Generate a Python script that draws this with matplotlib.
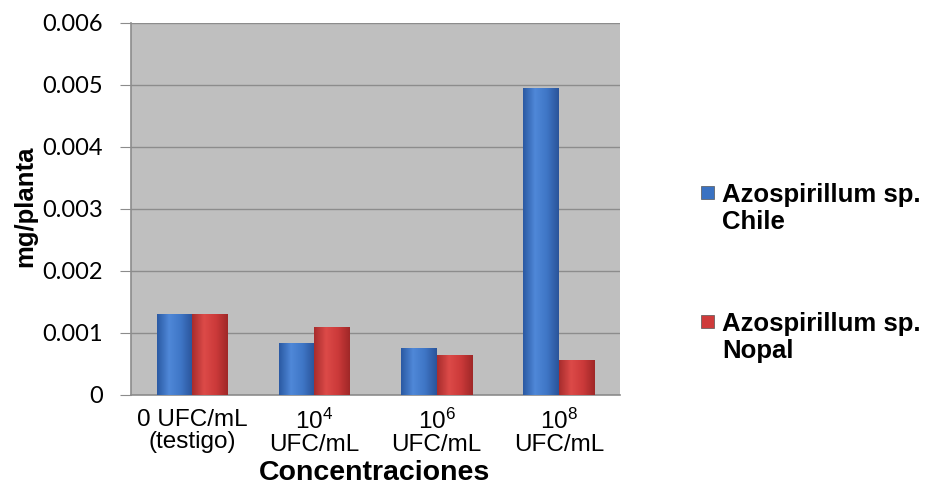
import matplotlib
matplotlib.use('Agg')
import matplotlib.pyplot as plt
import numpy as np
from matplotlib.patches import Rectangle
from matplotlib.colors import LinearSegmentedColormap

# Data
categories = ['0 UFC/mL\n(testigo)',
              r'$\mathregular{10^4}$' + '\nUFC/mL',
              r'$\mathregular{10^6}$' + '\nUFC/mL',
              r'$\mathregular{10^8}$' + '\nUFC/mL']
chile = [0.00131, 0.00083, 0.00075, 0.00495]
nopal = [0.00131, 0.00110, 0.00064, 0.00056]
series_names = ['Azospirillum sp.\nChile', 'Azospirillum sp.\nNopal']
yticks = [0, 0.001, 0.002, 0.003, 0.004, 0.005, 0.006]
ytick_labels = ['0', '0.001', '0.002', '0.003', '0.004', '0.005', '0.006']

plt.rcParams['font.family'] = ['Liberation Sans', 'DejaVu Sans']
plt.rcParams['mathtext.fontset'] = 'custom'
plt.rcParams['mathtext.rm'] = 'Liberation Sans'

blue = '#3a72c2'
red = '#cf3b3b'
blue_cm = LinearSegmentedColormap.from_list('b', ['#2b5aa3', '#4f88d8', '#3f76c6', '#2a549a'])
red_cm = LinearSegmentedColormap.from_list('r', ['#a82d2d', '#dc4a48', '#cc3a3a', '#a02828'])

fig = plt.figure(figsize=(9.28, 4.88), dpi=100)
ax = fig.add_axes([0.141, 0.191, 0.527, 0.762])
ax.set_facecolor('#bfbfbf')

x = np.arange(len(categories))
w = 0.29
grad = np.linspace(0, 1, 64).reshape(1, -1)
for vals, off, cm, col in [(chile, -w / 2, blue_cm, blue), (nopal, w / 2, red_cm, red)]:
    bars = ax.bar(x + off, vals, w, color=col, edgecolor='none', zorder=3)
    for b in bars:
        im = ax.imshow(grad, cmap=cm, aspect='auto', zorder=3.5,
                       extent=[b.get_x(), b.get_x() + b.get_width(), 0, b.get_height()])
        im.set_clip_path(b)

ax.set_xlim(-0.5, len(categories) - 0.5)
ax.set_ylim(0, 0.006)
ax.set_yticks(yticks)
ax.set_yticklabels(ytick_labels, family='Lato', fontsize=17)
ax.yaxis.grid(True, color='#8c8c8c', linewidth=1, zorder=0)
ax.set_axisbelow(True)

ax.set_xticks(x)
ax.set_xticklabels(categories, fontsize=17.5, linespacing=1.02)
ax.tick_params(axis='x', length=0, pad=10)
ax.tick_params(axis='y', length=8, color='#8c8c8c', direction='out', pad=12)

for side in ['top', 'right']:
    ax.spines[side].set_visible(False)
for side in ['left', 'bottom']:
    ax.spines[side].set_color('#8c8c8c')
    ax.spines[side].set_linewidth(1.2)

fig.text(25 / 928, 1 - 206 / 488, 'mg/planta', rotation=90, ha='center', va='center',
         fontsize=18.5, fontweight='bold')
fig.text(375 / 928, 1 - 480 / 488, 'Concentraciones', ha='center', va='baseline',
         fontsize=20.5, fontweight='bold')

# legend drawn by hand: marker beside the first text line
for i, (name, col) in enumerate(zip(series_names, [blue, red])):
    last_base = [229, 358][i]
    first_base = last_base - 29
    fig.text(722 / 928, 1 - last_base / 488, name, ha='left', va='baseline',
             fontsize=18.5, fontweight='bold', linespacing=1.15)
    fig.patches.append(Rectangle((701 / 928, 1 - (first_base - 1) / 488), 13 / 928, 13 / 488,
                                 transform=fig.transFigure, facecolor=col,
                                 edgecolor='#555555', linewidth=0.5))

fig.savefig('out.png', dpi=100)
